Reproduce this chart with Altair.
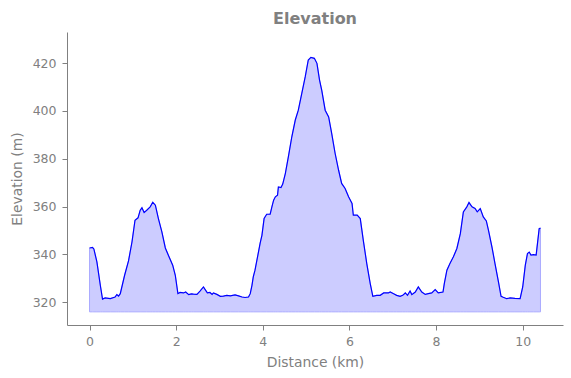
import altair as alt
import pandas as pd

# Distance along the route (km)
distance_km = [
    0.00, 0.07, 0.10, 0.17, 0.25, 0.30, 0.36, 0.48, 0.59, 0.63, 0.67, 0.71,
    0.81, 0.90, 0.98, 1.05, 1.12, 1.17, 1.21, 1.26, 1.32, 1.40, 1.46, 1.52,
    1.59, 1.67, 1.75, 1.82, 1.92, 1.98, 2.04, 2.09, 2.17, 2.22, 2.29, 2.35,
    2.40, 2.48, 2.55, 2.63, 2.67, 2.72, 2.78, 2.83, 2.86, 2.94, 3.02, 3.09,
    3.17, 3.25, 3.36, 3.44, 3.52, 3.59, 3.67, 3.71, 3.75, 3.78, 3.82, 3.94,
    3.98, 4.03, 4.09, 4.17, 4.21, 4.25, 4.29, 4.34, 4.36, 4.42, 4.46, 4.52,
    4.59, 4.67, 4.75, 4.82, 4.90, 4.98, 5.05, 5.11, 5.19, 5.25, 5.31, 5.36,
    5.44, 5.52, 5.59, 5.67, 5.75, 5.82, 5.90, 5.98, 6.06, 6.09, 6.18, 6.25,
    6.32, 6.40, 6.48, 6.54, 6.63, 6.71, 6.79, 6.90, 6.94, 7.02, 7.09, 7.17,
    7.23, 7.29, 7.34, 7.40, 7.44, 7.52, 7.59, 7.67, 7.75, 7.82, 7.90, 7.98,
    8.05, 8.16, 8.19, 8.25, 8.32, 8.40, 8.48, 8.56, 8.63, 8.71, 8.76, 8.83,
    8.90, 8.95, 9.02, 9.09, 9.16, 9.21, 9.29, 9.36, 9.44, 9.50, 9.55, 9.63,
    9.71, 9.82, 9.94, 10.00, 10.06, 10.11, 10.15, 10.19, 10.25, 10.31, 10.38,
    10.41,
]

# Elevation (m)
elevation_m = [
    342.7, 342.9, 342.3, 336.9, 327.0, 321.3, 321.8, 321.5, 322.2, 323.2, 322.6, 323.6,
    331.3, 337.3, 345.2, 354.3, 355.3, 358.5, 359.5, 357.5, 358.5, 359.9, 361.8, 360.6,
    355.0, 349.4, 342.7, 339.7, 335.5, 331.3, 323.6, 324.1, 323.9, 324.3, 323.2, 323.5,
    323.4, 323.3, 324.7, 326.4, 325.3, 323.9, 324.1, 323.3, 323.9, 323.3, 322.5, 322.6,
    322.9, 322.7, 323.1, 322.7, 322.2, 322.0, 322.2, 323.6, 327.1, 330.6, 333.4, 344.8,
    348.0, 355.0, 356.8, 356.8, 359.9, 362.7, 364.1, 364.8, 368.2, 368.0, 369.4, 373.8,
    380.8, 389.2, 396.2, 400.3, 407.3, 414.3, 421.3, 422.4, 422.0, 419.9, 412.9, 408.7,
    400.3, 397.5, 390.6, 382.2, 375.2, 369.7, 367.6, 364.1, 361.3, 356.4, 356.4, 355.0,
    345.9, 336.2, 327.8, 322.5, 322.9, 322.9, 323.9, 323.9, 324.3, 323.6, 322.9, 322.5,
    322.9, 323.9, 322.9, 324.7, 323.2, 324.3, 326.4, 324.3, 323.3, 323.6, 323.9, 325.3,
    323.9, 324.3, 327.8, 333.4, 336.2, 339.0, 342.5, 348.7, 357.8, 359.9, 361.7, 359.9,
    359.2, 357.8, 359.2, 355.7, 354.0, 350.1, 343.1, 336.2, 328.5, 322.5, 322.1, 321.5,
    321.8, 321.6, 321.5, 326.4, 335.5, 340.4, 341.0, 339.7, 339.9, 339.7, 350.8,
    351.0,
]

BASELINE_M = 316.0
x_ticks = [0, 2, 4, 6, 8, 10]
y_ticks = [320, 340, 360, 380, 400, 420]

df = pd.DataFrame({"dist": distance_km, "elev": elevation_m})
df["base"] = BASELINE_M

x_enc = alt.X(
    "dist:Q",
    scale=alt.Scale(domain=[-0.52, 10.93], nice=False, zero=False),
    axis=alt.Axis(values=x_ticks, format="d", title="Distance (km)",
                  titleY=37, titleBaseline="middle", labelPadding=5),
)
y_scale = alt.Scale(domain=[310.5, 433], nice=False, zero=False)

area = alt.Chart(df).mark_area(
    fill="#ccccff", stroke="#aaaaff", strokeWidth=1, clip=True
).encode(
    x=x_enc,
    y=alt.Y("elev:Q", scale=y_scale,
            axis=alt.Axis(values=y_ticks, format="d", title="Elevation (m)",
                          titleX=-50, titleY=146.5, titleBaseline="middle",
                          labelPadding=6)),
    y2="base:Q",
)

line = alt.Chart(df).mark_line(color="#0000ff", strokeWidth=1.2, clip=True).encode(
    x="dist:Q",
    y="elev:Q",
)

chart = alt.layer(area, line).properties(
    width=496,
    height=293,
    padding={"left": 67, "top": 32, "right": 8, "bottom": 53},
    autosize="none",
    title=alt.TitleParams(
        "Elevation", font="DejaVu Sans", fontSize=16, fontWeight="bold",
        color="gray", offset=8, baseline="alphabetic", frame="group",
        anchor="middle", dy=16,
    ),
).configure_view(stroke=None).configure_axis(
    grid=False,
    domainColor="gray",
    domainWidth=1,
    tickColor="gray",
    tickWidth=1,
    tickSize=5,
    labelColor="gray",
    titleColor="gray",
    labelFont="DejaVu Sans",
    titleFont="DejaVu Sans",
    labelFontSize=12.5,
    titleFontSize=13.9,
    titleFontWeight="normal",
)

chart.save("out.html", embed_options={"renderer": "svg", "actions": False})
